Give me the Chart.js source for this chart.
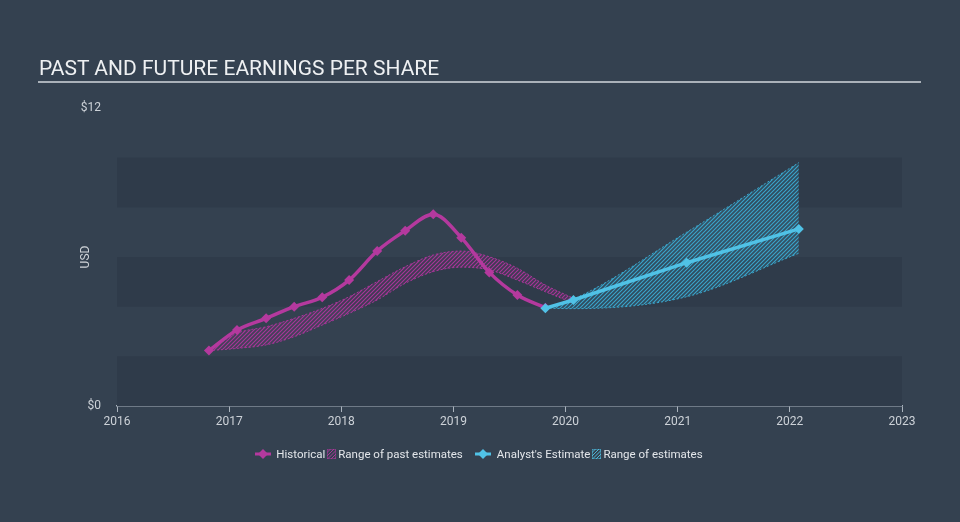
<!DOCTYPE html>
<html>
<head>
<meta charset="utf-8">
<script src="https://cdn.jsdelivr.net/npm/chart.js@4.4.1/dist/chart.umd.min.js"></script>
<style>
  html, body { margin: 0; padding: 0; background: #344150; }
  #wrap { position: relative; width: 960px; height: 522px; background: #344150; font-family: Roboto, "Noto Sans", sans-serif; }
  #title { position: absolute; left: 38px; top: 55px; width: 883px; color: #eef0f2; font-size: 21px; line-height: 26px; border-bottom: 2px solid #aab1b9; padding-left: 1px; box-sizing: border-box; }
  #legend { position: absolute; left: 0; top: 447px; width: 958px; display: flex; justify-content: center; align-items: center; color: #e3e6ea; font-size: 11.5px; }
  #legend canvas { display: block; }
</style>
</head>
<body>
<div id="wrap">
  <canvas id="c" width="960" height="522"></canvas>
  <div id="title">PAST AND FUTURE EARNINGS PER SHARE</div>
  <div id="legend"></div>
</div>
<script>
// ---- data ----
const histYears = [2016.82, 2017.07, 2017.33, 2017.58, 2017.83, 2018.07, 2018.32, 2018.57, 2018.82, 2019.07, 2019.32, 2019.57, 2019.82];
const histEPS   = [2.23, 3.06, 3.53, 4.00, 4.38, 5.07, 6.24, 7.06, 7.72, 6.78, 5.38, 4.47, 3.96];

const pastRangeYears = [2016.82, 2017.07, 2017.33, 2017.58, 2017.83, 2018.07, 2018.32, 2018.57, 2018.82, 2019.07, 2019.32, 2019.57, 2019.82, 2020.07];
const pastRangeHigh  = [2.23, 2.93, 3.19, 3.53, 3.93, 4.40, 5.01, 5.61, 6.08, 6.24, 6.01, 5.55, 4.87, 4.34];
const pastRangeLow   = [2.23, 2.32, 2.46, 2.79, 3.26, 3.73, 4.27, 4.94, 5.41, 5.59, 5.48, 5.07, 4.60, 4.14];

const estYears = [2019.82, 2020.07, 2021.08, 2022.08];
const estEPS   = [3.94, 4.27, 5.77, 7.13];
const estRangeHigh = [3.94, 4.30, 7.00, 9.80];
const estRangeLow  = [3.94, 3.92, 4.40, 6.15];

const yearTicks = [2016, 2017, 2018, 2019, 2020, 2021, 2022, 2023];
const yTickValues = [0, 12];
const bandEdges = [0, 2, 4, 6, 8, 10];

// ---- styles ----
const PINK = '#b4399e';
const BLUE = '#50c2e6';

function hatch(color, tint) {
  const s = 4;
  const c = document.createElement('canvas');
  c.width = s; c.height = s;
  const g = c.getContext('2d');
  g.fillStyle = tint; g.fillRect(0, 0, s, s);
  g.strokeStyle = color; g.lineWidth = 1.1;
  g.beginPath();
  g.moveTo(0, s); g.lineTo(s, 0);
  g.moveTo(-1, 1); g.lineTo(1, -1);
  g.moveTo(s - 1, s + 1); g.lineTo(s + 1, s - 1);
  g.stroke();
  return c;
}
const ctx = document.getElementById('c').getContext('2d');
const pinkPattern = ctx.createPattern(hatch('#a8369a', 'rgba(170,55,150,0.12)'), 'repeat');
const bluePattern = ctx.createPattern(hatch('#3aa6cc', 'rgba(58,166,204,0.15)'), 'repeat');

const pts = (xs, ys) => xs.map((x, i) => ({ x: x, y: ys[i] }));

const bandsPlugin = {
  id: 'bands',
  beforeDatasetsDraw(chart) {
    const { ctx, chartArea, scales } = chart;
    const y = scales.y;
    ctx.save();
    for (let i = 0; i < bandEdges.length - 1; i += 2) {
      const top = y.getPixelForValue(bandEdges[i + 1]);
      const bot = y.getPixelForValue(bandEdges[i]);
      ctx.fillStyle = '#2f3b4a';
      ctx.fillRect(chartArea.left, top, chartArea.right - chartArea.left, bot - top);
    }
    ctx.restore();
  },
  afterDraw(chart) {
    const { ctx } = chart;
    ctx.save();
    ctx.translate(86, chart.scales.y.getPixelForValue(6));
    ctx.rotate(-Math.PI / 2);
    ctx.fillStyle = '#cfd3d8';
    ctx.font = '12px Roboto, "Noto Sans", sans-serif';
    ctx.textAlign = 'center';
    ctx.textBaseline = 'middle';
    ctx.fillText('USD', 0, 0);
    ctx.restore();
  }
};

const rangeCommon = {
  pointRadius: 0, borderWidth: 1, borderDash: [2, 2], cubicInterpolationMode: 'monotone', order: 2
};

new Chart(ctx, {
  type: 'line',
  data: {
    datasets: [
      Object.assign({ label: 'pastHigh', data: pts(pastRangeYears, pastRangeHigh), borderColor: '#a8369a', backgroundColor: pinkPattern, fill: '+1' }, rangeCommon),
      Object.assign({ label: 'pastLow', data: pts(pastRangeYears, pastRangeLow), borderColor: '#a8369a', fill: false }, rangeCommon),
      Object.assign({ label: 'estHigh', data: pts(estYears, estRangeHigh), borderColor: '#3aa6cc', backgroundColor: bluePattern, fill: '+1' }, rangeCommon),
      Object.assign({ label: 'estLow', data: pts(estYears, estRangeLow), borderColor: '#3aa6cc', fill: false }, rangeCommon),
      { label: 'Historical', data: pts(histYears, histEPS), borderColor: PINK, backgroundColor: PINK, borderWidth: 3.5,
        pointStyle: 'rectRot', pointRadius: 5, pointBorderWidth: 0, cubicInterpolationMode: 'monotone', fill: false, order: 1 },
      { label: "Analyst's Estimate", data: pts(estYears, estEPS), borderColor: BLUE, backgroundColor: BLUE, borderWidth: 3.5,
        pointStyle: 'rectRot', pointRadius: 5, pointBorderWidth: 0, tension: 0, fill: false, order: 0 }
    ]
  },
  options: {
    responsive: false,
    animation: false,
    layout: { padding: { left: 0, right: 58, top: 108, bottom: 86 } },
    plugins: { legend: { display: false }, tooltip: { enabled: false }, title: { display: false } },
    scales: {
      x: {
        type: 'linear', min: 2016, max: 2023,
        afterBuildTicks: s => { s.ticks = yearTicks.map(v => ({ value: v })); },
        afterFit: s => { s.height = 30; },
        ticks: { color: '#cdd2d8', font: { size: 12, family: 'Roboto' }, padding: 3, maxRotation: 0, callback: v => String(v) },
        grid: { drawOnChartArea: false, drawTicks: true, tickLength: 6, color: '#aab3bd', lineWidth: 1 },
        border: { display: true, color: '#aab3bd', width: 1.5 }
      },
      y: {
        min: 0, max: 12,
        afterBuildTicks: s => { s.ticks = yTickValues.map(v => ({ value: v })); },
        afterFit: s => { s.width = 117; },
        ticks: { color: '#cdd2d8', font: { size: 12, family: 'Roboto' }, padding: 16, callback: v => '$' + v },
        grid: { display: false, drawTicks: false },
        border: { display: false }
      }
    }
  },
  plugins: [bandsPlugin]
});

// ---- legend (HTML) ----
function diamondIcon(color) {
  const c = document.createElement('canvas'); c.width = 16; c.height = 12;
  const g = c.getContext('2d');
  g.strokeStyle = color; g.lineWidth = 3;
  g.beginPath(); g.moveTo(0, 6); g.lineTo(16, 6); g.stroke();
  g.fillStyle = color;
  g.beginPath(); g.moveTo(8, 1); g.lineTo(13, 6); g.lineTo(8, 11); g.lineTo(3, 6); g.closePath(); g.fill();
  return c;
}
function hatchIcon(color) {
  const c = document.createElement('canvas'); c.width = 9; c.height = 10;
  const g = c.getContext('2d');
  g.strokeStyle = color; g.lineWidth = 1;
  g.beginPath();
  for (let k = -10; k < 20; k += 3.5) { g.moveTo(k, 10); g.lineTo(k + 10, 0); }
  g.save(); g.rect(0, 0, 9, 10); g.clip(); g.stroke(); g.restore();
  return c;
}
const legend = document.getElementById('legend');
function addText(t, ml, mr) { const s = document.createElement('span'); s.textContent = t; s.style.marginLeft = ml + 'px'; s.style.marginRight = mr + 'px'; legend.appendChild(s); }
function addIcon(c, ml) { c.style.marginLeft = ml + 'px'; legend.appendChild(c); }
addIcon(diamondIcon(PINK), 0); addText('Historical', 5, 2);
addIcon(hatchIcon('rgba(180,57,158,0.9)'), 0); addText('Range of past estimates', 2, 0);
addIcon(diamondIcon(BLUE), 12); addText("Analyst's Estimate", 6, 2);
addIcon(hatchIcon('rgba(80,194,230,0.9)'), 0); addText('Range of estimates', 2, 0);
</script>
</body>
</html>
